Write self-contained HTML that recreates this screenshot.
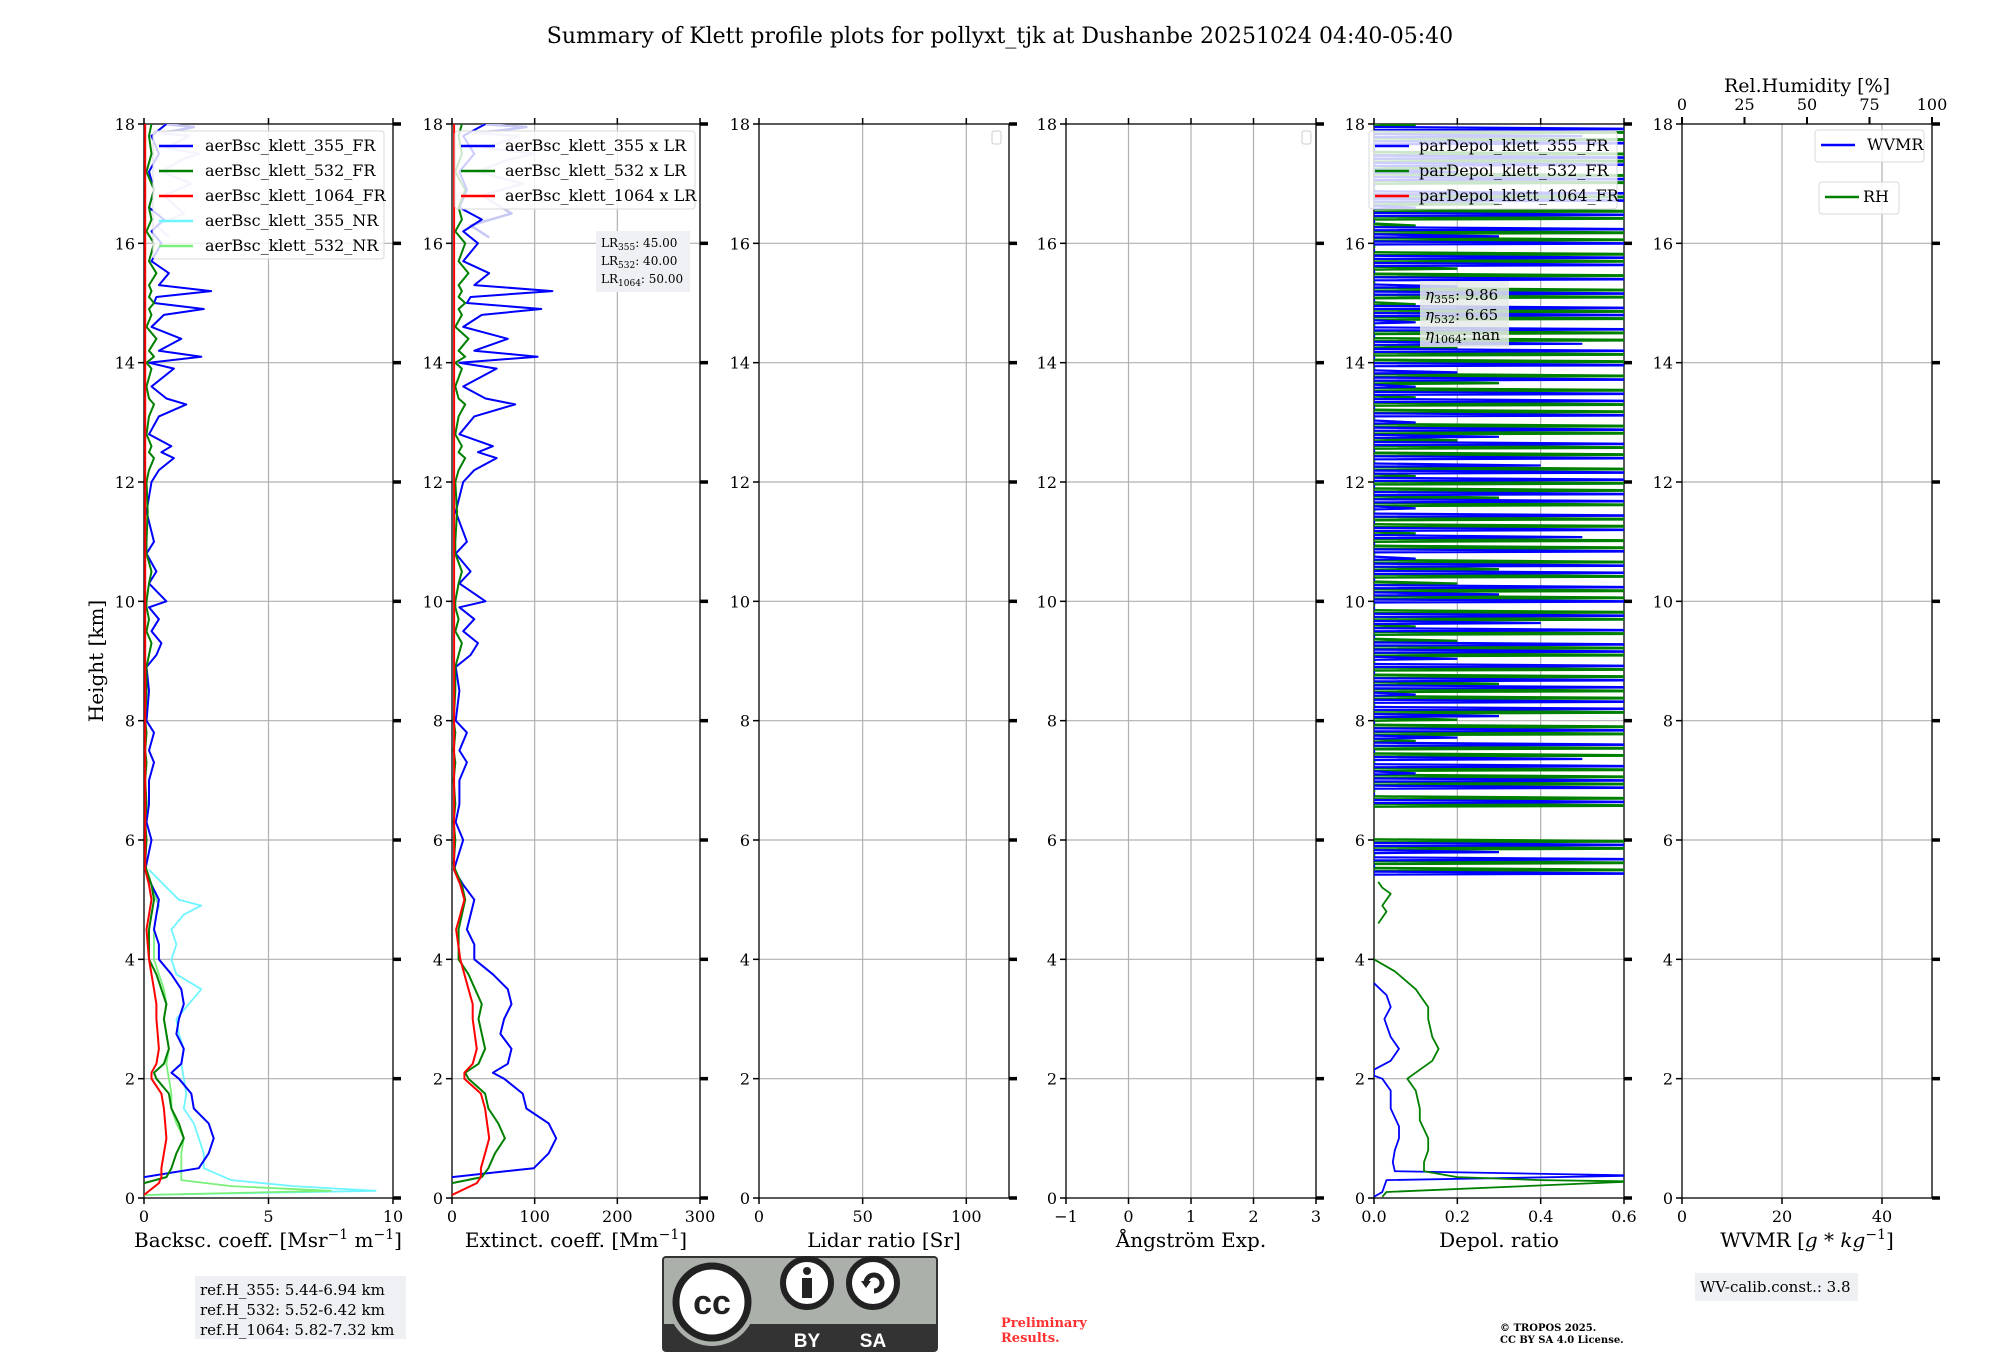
<!DOCTYPE html>
<html><head><meta charset="utf-8">
<style>
html,body{margin:0;padding:0;background:#fff;}
svg{display:block;font-family:"DejaVu Serif","Liberation Serif",serif;}
</style></head>
<body>
<svg id="fig" width="2000" height="1360" viewBox="0 0 2000 1360" xmlns="http://www.w3.org/2000/svg">
<defs>
<clipPath id="c1"><rect x="144" y="124" width="249" height="1074"/></clipPath>
<clipPath id="c2"><rect x="452" y="124" width="248" height="1074"/></clipPath>
<clipPath id="c5"><rect x="1374" y="124" width="250" height="1074"/></clipPath>
</defs>
<text x="1000" y="43" text-anchor="middle" font-size="22">Summary of Klett profile plots for pollyxt_tjk at Dushanbe 20251024 04:40-05:40</text>
<text transform="translate(103,661) rotate(-90)" text-anchor="middle" font-size="20">Height [km]</text>
<g id="axes"></g>
<g id="marks"></g>
<g id="overlay"></g>
</svg>
<script>
// ---------- data ----------
const heightTicks = [0,2,4,6,8,10,12,14,16,18];
const hLow = [0.25,0.35,0.5,0.75,1.0,1.25,1.5,1.75,2.0,2.1,2.25,2.5,2.75,3.0,3.25,3.5,3.75,4.0,4.25,4.5,4.75,5.0,5.25,5.5];
const bsc355 = [-0.4,0,2.2,2.6,2.8,2.6,2.0,1.9,1.4,1.1,1.5,1.6,1.3,1.4,1.6,1.5,1.1,0.6,0.6,0.4,0.5,0.6,0.3,0.05];
const bsc532 = [0,0.9,1.1,1.3,1.6,1.4,1.1,1.0,0.5,0.4,0.8,1.0,0.9,0.8,0.9,0.7,0.5,0.2,0.2,0.2,0.3,0.4,0.3,0.1];
const bsc1064 = [0.6,0.7,0.7,0.8,0.9,0.85,0.8,0.7,0.3,0.3,0.5,0.6,0.55,0.5,0.5,0.4,0.3,0.2,0.15,0.1,0.2,0.3,0.2,0.05];
const hNR = [0.05,0.12,0.2,0.3,0.5,0.75,1.0,1.25,1.5,1.75,2.0,2.25,2.5,2.75,3.0,3.25,3.5,3.75,4.0,4.25,4.5,4.75,4.9,5.0,5.25,5.5];
const bsc355NR = [0,9.3,6.0,3.5,2.4,2.4,2.2,2.0,1.6,1.7,1.6,1.5,1.6,1.4,1.3,1.8,2.3,1.3,1.1,1.3,1.1,1.6,2.3,1.4,0.8,0.2];
const bsc532NR = [0,7.5,3.5,1.5,1.5,1.5,1.6,1.3,1.1,1.1,1.0,0.9,1.0,0.9,0.8,0.9,0.8,0.6,0.4,0.4,0.4,0.5,0.6,0.5,0.3,0.1];
const hUp = [5.6,6.0,6.3,6.6,7.0,7.3,7.5,7.8,8.0,8.5,8.9,9.1,9.3,9.5,9.7,9.9,10.0,10.3,10.5,10.8,11.0,11.5,12.0,12.2,12.4,12.5,12.6,12.8,13.1,13.3,13.4,13.6,13.9,14.0,14.1,14.2,14.4,14.6,14.8,14.9,15.0,15.1,15.2,15.3,15.5,15.7,16.0,16.2,16.4,16.6,16.9,17.2,17.5,17.8,18.0];
const up355 = [0.1,0.3,0.1,0.2,0.2,0.4,0.2,0.4,0.1,0.2,0.1,0.5,0.7,0.3,0.6,0.2,0.9,0.2,0.5,0.1,0.4,0.1,0.3,0.6,1.2,0.7,1.1,0.2,0.6,1.7,0.9,0.3,1.2,0.2,2.3,0.6,1.5,0.3,0.8,2.4,0.4,0.5,2.7,0.6,1.0,0.3,0.7,0.3,0.8,0.2,0.4,0.2,0.6,0.3,0.9];
const up532 = [0.05,0.1,0.05,0.1,0.05,0.1,0.05,0.1,0.05,0.1,0.1,0.2,0.3,0.1,0.2,0.1,0.1,0.2,0.3,0.1,0.1,0.15,0.1,0.2,0.4,0.2,0.3,0.1,0.2,0.4,0.2,0.1,0.3,0.1,0.4,0.2,0.5,0.1,0.3,0.2,0.4,0.2,0.3,0.2,0.5,0.2,0.4,0.1,0.3,0.2,0.4,0.1,0.3,0.2,0.3];
const upNR = [1.0,0.5,1.6,0.8,1.9,0.7,1.5,2.2,0.9,1.8,0.6,1.4,2.0,0.8];
const hUpNR = [16.1,16.3,16.5,16.8,17.0,17.2,17.4,17.5,17.6,17.8,17.85,17.9,17.95,18.0];
const lidarRatios = [45,40,50];
const hDep = [0.02,0.1,0.3,0.37,0.38,0.45,0.6,0.8,1.0,1.2,1.5,1.8,2.0,2.05,2.15,2.3,2.5,2.7,3.0,3.2,3.4,3.6];
const dep355 = [0.0,0.02,0.03,0.6,0.6,0.05,0.045,0.05,0.06,0.06,0.04,0.04,0.02,0.0,0.0,0.04,0.06,0.04,0.025,0.04,0.03,0.0];
const hDep532 = [0.02,0.1,0.27,0.28,0.3,0.35,0.45,0.6,0.8,1.0,1.3,1.5,1.8,2.0,2.1,2.3,2.5,2.7,3.0,3.2,3.5,3.8,4.0];
const dep532 = [0.02,0.03,0.6,0.6,0.4,0.2,0.12,0.12,0.13,0.13,0.11,0.11,0.1,0.08,0.1,0.14,0.155,0.14,0.13,0.13,0.1,0.05,0.0];
const hDepSmall = [4.6,4.7,4.8,4.9,5.0,5.1,5.2,5.3];
const depSmall = [0.01,0.02,0.03,0.02,0.03,0.04,0.02,0.01];
const depUp355 = [0.6,0.0,0.6,0.3,0.6,null,null,null,null,null,0.6,0.0,0.6,0.6,0.1,0.6,0.5,0.0,0.6,0.2,0.6,0.0,0.3,0.6,0.6,0.1,0.6,0.6,0.0,0.6,0.2,0.6,0.6,0.0,0.6,0.4,0.6,0.0,0.6,0.3,0.6,0.0,0.6,0.6,0.1,0.6,0.0,0.5,0.6,0.0,0.6,0.1,0.6,0.6,0.0,0.6,0.6,0.4,0.6,0.0,0.6,0.3,0.6,0.1,0.6,0.0,0.6,0.6,0.1,0.6,0.2,0.6,0.0,0.6,0.5,0.0,0.6,0.1,0.6,0.6,0.0,0.6,0.2,0.6,0.0,0.6,0.6,0.0,0.6,0.3,0.6,0.0,0.6,0.1,0.6,0.6,0.0,0.6,0.2,0.6,0.6,0.0,0.6,0.5,0.6];
const depUp532 = [0.6,0.6,0.0,0.6,0.6,null,null,null,null,0.6,0.6,0.0,0.6,0.6,0.6,0.0,0.6,0.6,0.1,0.6,0.6,0.2,0.6,0.0,0.6,0.6,0.3,0.6,0.6,0.0,0.6,0.6,0.2,0.6,0.1,0.6,0.6,0.0,0.6,0.6,0.2,0.6,0.3,0.6,0.0,0.6,0.6,0.1,0.6,0.6,0.0,0.6,0.3,0.6,0.6,0.1,0.6,0.0,0.6,0.6,0.2,0.6,0.6,0.0,0.6,0.6,0.1,0.6,0.3,0.6,0.0,0.6,0.6,0.2,0.6,0.6,0.0,0.6,0.6,0.1,0.6,0.6,0.0,0.6,0.2,0.6,0.6,0.0,0.6,0.6,0.1,0.6,0.6,0.3,0.6,0.0,0.6,0.6,0.2,0.6,0.6,0.0,0.6,0.6,0.1];

// ---------- layout ----------
const NS='http://www.w3.org/2000/svg';
const Y0=1198, YT=124;
const yS = h => Y0 - h/18*(Y0-YT);
const panels = [
 {x0:144,x1:393,min:0,max:10,ticks:[0,5,10],lab:['0','5','10'],name:'backscatter'},
 {x0:452,x1:700,min:0,max:300,ticks:[0,100,200,300],lab:['0','100','200','300'],name:'extinction'},
 {x0:759,x1:1009,min:0,max:120.6,ticks:[0,50,100],lab:['0','50','100'],name:'lidar-ratio'},
 {x0:1066,x1:1316,min:-1,max:3,ticks:[-1,0,1,2,3],lab:['\u22121','0','1','2','3'],name:'angstrom'},
 {x0:1374,x1:1624,min:0,max:0.6,ticks:[0,0.2,0.4,0.6],lab:['0.0','0.2','0.4','0.6'],name:'depol'},
 {x0:1682,x1:1932,min:0,max:50,ticks:[0,20,40],lab:['0','20','40'],name:'wvmr'}
];
const xlabels = [
 ['Backsc. coeff. [Msr<tspan dy="-8" font-size="14">\u22121</tspan><tspan dy="8"> m</tspan><tspan dy="-8" font-size="14">\u22121</tspan><tspan dy="8">]</tspan>',268],
 ['Extinct. coeff. [Mm<tspan dy="-8" font-size="14">\u22121</tspan><tspan dy="8">]</tspan>',576],
 ['Lidar ratio [Sr]',884],
 ['\u00C5ngstr\u00F6m Exp.',1191],
 ['Depol. ratio',1499],
 ['WVMR [<tspan font-style="italic">g</tspan> * <tspan font-style="italic">kg</tspan><tspan dy="-8" font-size="14">\u22121</tspan><tspan dy="8">]</tspan>',1807]
];
function el(tag, attrs, parent){const e=document.createElementNS(NS,tag);for(const k in attrs)e.setAttribute(k,attrs[k]);parent.appendChild(e);return e;}
const axes=document.getElementById('axes'), marks=document.getElementById('marks'), ov=document.getElementById('overlay');

panels.forEach((p,i)=>{
  const g=el('g',{},axes);
  
  
  const xs=v=>p.x0+(v-p.min)/(p.max-p.min)*(p.x1-p.x0);
  p.xs=xs;
  heightTicks.forEach(h=>{
    const y=yS(h);
    if(h>0&&h<18) el('line',{x1:p.x0,x2:p.x1,y1:y,y2:y,stroke:'#b0b0b0','stroke-width':1.2},g);
    el('line',{x1:p.x0-6,x2:p.x0,y1:y,y2:y,stroke:'#000','stroke-width':1.5},g);
    el('line',{x1:p.x1,x2:p.x1+8,y1:y,y2:y,stroke:'#000','stroke-width':3.5},g);
    const t=el('text',{x:p.x0-9,y:y+6,'text-anchor':'end','font-size':16},g);t.textContent=h;
  });
  p.ticks.forEach((v,j)=>{
    const x=xs(v);
    if(j>0&&j<p.ticks.length-1||(v!==p.min&&x<p.x1-2)) el('line',{x1:x,x2:x,y1:YT,y2:Y0,stroke:'#b0b0b0','stroke-width':1.2},g);
    el('line',{x1:x,x2:x,y1:Y0,y2:Y0+6,stroke:'#000','stroke-width':1.5},g);
    if(i!==5) el('line',{x1:x,x2:x,y1:YT-6,y2:YT,stroke:'#000','stroke-width':1.5},g);
    const t=el('text',{x:x,y:1222,'text-anchor':'middle','font-size':16},g);t.textContent=p.lab[j];
  });
  el('rect',{x:p.x0,y:YT,width:p.x1-p.x0,height:Y0-YT,fill:'none',stroke:'#000','stroke-width':1.3},g);
  const xl=el('text',{x:xlabels[i][1],y:1247,'text-anchor':'middle','font-size':20},g);
  xl.innerHTML=xlabels[i][0];
  
  
});
const rhTicks=[0,25,50,75,100];
{const p=panels[5];const g=el('g',{},axes);
 
 
 rhTicks.forEach(v=>{const x=p.x0+v/100*(p.x1-p.x0);
  el('line',{x1:x,x2:x,y1:YT-7,y2:YT,stroke:'#000','stroke-width':2},g);
  const t=el('text',{x:x,y:110,'text-anchor':'middle','font-size':16},g);t.textContent=v;});
 const t=el('text',{x:1807,y:92,'text-anchor':'middle','font-size':19},g);t.textContent='Rel.Humidity [%]';}

function line(pi,hs,vs,color,w,clip,name,op){
  const p=panels[pi];let d='';let pen=false;
  hs.forEach((h,k)=>{const v=vs[k];if(v===null||v===undefined){pen=false;return;}
    d+=(pen?'L':'M')+p.xs(v).toFixed(1)+' '+yS(h).toFixed(1);pen=true;});
  const e=el('path',{d:d,fill:'none',stroke:color,'stroke-width':w,'clip-path':'url(#'+clip+')','stroke-linejoin':'round',opacity:op||1},marks);
  
  
}
// horizontal-noise style: each value drawn as a near-horizontal excursion from 0
function hnoise(pi,hs,vs,color,w,clip,name){
  const p=panels[pi];let d='';
  hs.forEach((h,k)=>{const v=vs[k];if(v===null||v===undefined)return;
    const x0=p.xs(0), x=p.xs(v>=0.6?0.7:v), y=yS(h);
    d+='M'+x0.toFixed(1)+' '+y.toFixed(1)+'L'+x.toFixed(1)+' '+(y-1).toFixed(1)+'L'+x0.toFixed(1)+' '+(y-3).toFixed(1);});
  const e=el('path',{d:d,fill:'none',stroke:color,'stroke-width':w,'clip-path':'url(#'+clip+')'},marks);
  
  
}
line(0,hUpNR,upNR,'#c8c8f5',2.5,'c1','bsc-355-nr-upper');
line(0,hNR,bsc355NR,'#6ff5ff',1.8,'c1','bsc-355-nr-line');
line(0,hNR,bsc532NR,'#7af07a',1.8,'c1','bsc-532-nr-line');
line(0,hLow.concat(hUp),bsc355.concat(up355),'#0000ff',2,'c1','bsc-355-fr-line');
line(0,hLow.concat(hUp),bsc532.concat(up532),'#008000',2,'c1','bsc-532-fr-line');
line(0,[0.05].concat(hLow,[6,18]),[0].concat(bsc1064,[0.05,0.05]),'#ff0000',2,'c1','bsc-1064-fr-line');
const sc=(a,k)=>a.map(v=>v===null?null:v*lidarRatios[k]);
line(1,hUpNR,upNR.map(v=>v*45),'#c8c8f5',2.5,'c2','ext-355-upper-faint');
line(1,hLow.concat(hUp),sc(bsc355.concat(up355),0),'#0000ff',2,'c2','ext-355-line');
line(1,hLow.concat(hUp),sc(bsc532.concat(up532),1),'#008000',2,'c2','ext-532-line');
line(1,[0.05].concat(hLow,[6,18]),sc([0].concat(bsc1064,[0.05,0.05]),2),'#ff0000',2,'c2','ext-1064-line');
const hDepUp=depUp355.map((v,k)=>5.42+k*0.12);
const hDepUp2=depUp532.map((v,k)=>5.48+k*0.12);
hnoise(4,hDepUp2,depUp532,'#008000',2.5,'c5','depol-532-upper');
hnoise(4,hDepUp,depUp355,'#0000ff',2.2,'c5','depol-355-upper');
line(4,hDep,dep355,'#0000ff',1.8,'c5','depol-355-line');
line(4,hDep532,dep532,'#008000',1.8,'c5','depol-532-line');
line(4,hDepSmall,depSmall,'#008000',1.8,'c5','depol-532-small');

// ---------- overlays ----------
function legend(x,y,w,h,items,name,fs,lh,tx){
  const g=el('g',{},ov);
  
  
  el('rect',{x:x,y:y,width:w,height:h,rx:3,fill:'#fff','fill-opacity':0.8,stroke:'#d8d8d8'},g);
  items.forEach((it,k)=>{const yy=y+20+k*lh;
    el('line',{x1:x+6,x2:x+40,y1:yy-5,y2:yy-5,stroke:it[1],'stroke-width':2.5},g);
    const t=el('text',{x:x+tx,y:yy,'font-size':fs},g);t.textContent=it[0];});
}
legend(153,131,231,128,[['aerBsc_klett_355_FR','#0000ff'],['aerBsc_klett_532_FR','#008000'],['aerBsc_klett_1064_FR','#ff0000'],['aerBsc_klett_355_NR','#6ff5ff'],['aerBsc_klett_532_NR','#7af07a']],'backscatter-legend',16,25,52);
legend(455,131,240,78,[['aerBsc_klett_355 x LR','#0000ff'],['aerBsc_klett_532 x LR','#008000'],['aerBsc_klett_1064 x LR','#ff0000']],'extinction-legend',16,25,50);
legend(1369,131,248,78,[['parDepol_klett_355_FR','#0000ff'],['parDepol_klett_532_FR','#008000'],['parDepol_klett_1064_FR','#ff0000']],'depol-legend',16,25,50);
legend(1815,130,109,32,[['WVMR','#0000ff']],'wvmr-legend',16,25,52);
legend(1819,182,80,32,[['RH','#008000']],'rh-legend',16,25,44);
el('rect',{x:992,y:131,width:9,height:13,rx:2,fill:'#fff',stroke:'#ccc'},ov);
el('rect',{x:1302,y:131,width:9,height:13,rx:2,fill:'#fff',stroke:'#ccc'},ov);
function box(x,y,w,h,lines,name,fs,lh,fill,op){
  const g=el('g',{},ov);
  
  
  el('rect',{x:x,y:y,width:w,height:h,fill:fill,'fill-opacity':op},g);
  lines.forEach((s,k)=>{const t=el('text',{x:x+5,y:y+fs+4+k*lh,'font-size':fs},g);t.innerHTML=s;});
}
box(596,231,94,61,['LR<tspan font-size="9" dy="3">355</tspan><tspan dy="-3">: 45.00</tspan>','LR<tspan font-size="9" dy="3">532</tspan><tspan dy="-3">: 40.00</tspan>','LR<tspan font-size="9" dy="3">1064</tspan><tspan dy="-3">: 50.00</tspan>'],'lidar-ratio-box',12,18,'#eef0f4',1);
box(1420,281,89,66,['<tspan font-style="italic">η</tspan><tspan font-size="11" dy="3">355</tspan><tspan dy="-3">: 9.86</tspan>','<tspan font-style="italic">η</tspan><tspan font-size="11" dy="3">532</tspan><tspan dy="-3">: 6.65</tspan>','<tspan font-style="italic">η</tspan><tspan font-size="11" dy="3">1064</tspan><tspan dy="-3">: nan</tspan>'],'eta-box',15,20,'#e8ece8',0.85);
box(195,1276,211,63,['ref.H_355: 5.44-6.94 km','ref.H_532: 5.52-6.42 km','ref.H_1064: 5.82-7.32 km'],'reference-height-box',15,20,'#eef0f4',1);
box(1695,1273,163,28,['WV-calib.const.: 3.8'],'wv-calib-box',15,20,'#eef0f4',1);
{const g=el('g',{},ov);
 
 
 el('rect',{x:663,y:1257,width:274,height:94,rx:3,fill:'#abb1aa',stroke:'#333','stroke-width':2},g);
 el('rect',{x:664,y:1324,width:272,height:26,fill:'#333'},g);
 el('circle',{cx:712,cy:1302,r:44,fill:'#abb1aa'},g);
 el('circle',{cx:712,cy:1302,r:36,fill:'#fff',stroke:'#222','stroke-width':7},g);
 let t=el('text',{x:712,y:1314,'text-anchor':'middle','font-size':34,'font-weight':'bold','font-family':'Liberation Sans, sans-serif',fill:'#222'},g);t.textContent='cc';
 [807,873].forEach(cx=>{el('circle',{cx:cx,cy:1283,r:24,fill:'#fff',stroke:'#222','stroke-width':6},g);});
 el('circle',{cx:807,cy:1271,r:4,fill:'#222'},g);
 el('rect',{x:802,y:1278,width:10,height:20,fill:'#222'},g);
 el('path',{d:'M866 1283 A8 8 0 1 1 874 1291',fill:'none',stroke:'#222','stroke-width':5},g);
 el('path',{d:'M861 1281 L871 1281 L866 1288 Z',fill:'#222'},g);
 t=el('text',{x:807,y:1347,'text-anchor':'middle','font-size':19,'font-weight':'bold','font-family':'Liberation Sans, sans-serif',fill:'#fff'},g);t.textContent='BY';
 t=el('text',{x:873,y:1347,'text-anchor':'middle','font-size':19,'font-weight':'bold','font-family':'Liberation Sans, sans-serif',fill:'#fff'},g);t.textContent='SA';}
{let t=el('text',{x:1001,y:1327,'font-size':13,'font-weight':'bold',fill:'#ff3030'},ov);t.textContent='Preliminary';
 
 t=el('text',{x:1001,y:1342,'font-size':13,'font-weight':'bold',fill:'#ff3030'},ov);t.textContent='Results.';
 t=el('text',{x:1500,y:1331,'font-size':10,'font-weight':'bold'},ov);t.textContent='\u00A9 TROPOS 2025.';
 
 t=el('text',{x:1500,y:1343,'font-size':10,'font-weight':'bold'},ov);t.textContent='CC BY SA 4.0 License.';}
</script>
</body></html>
